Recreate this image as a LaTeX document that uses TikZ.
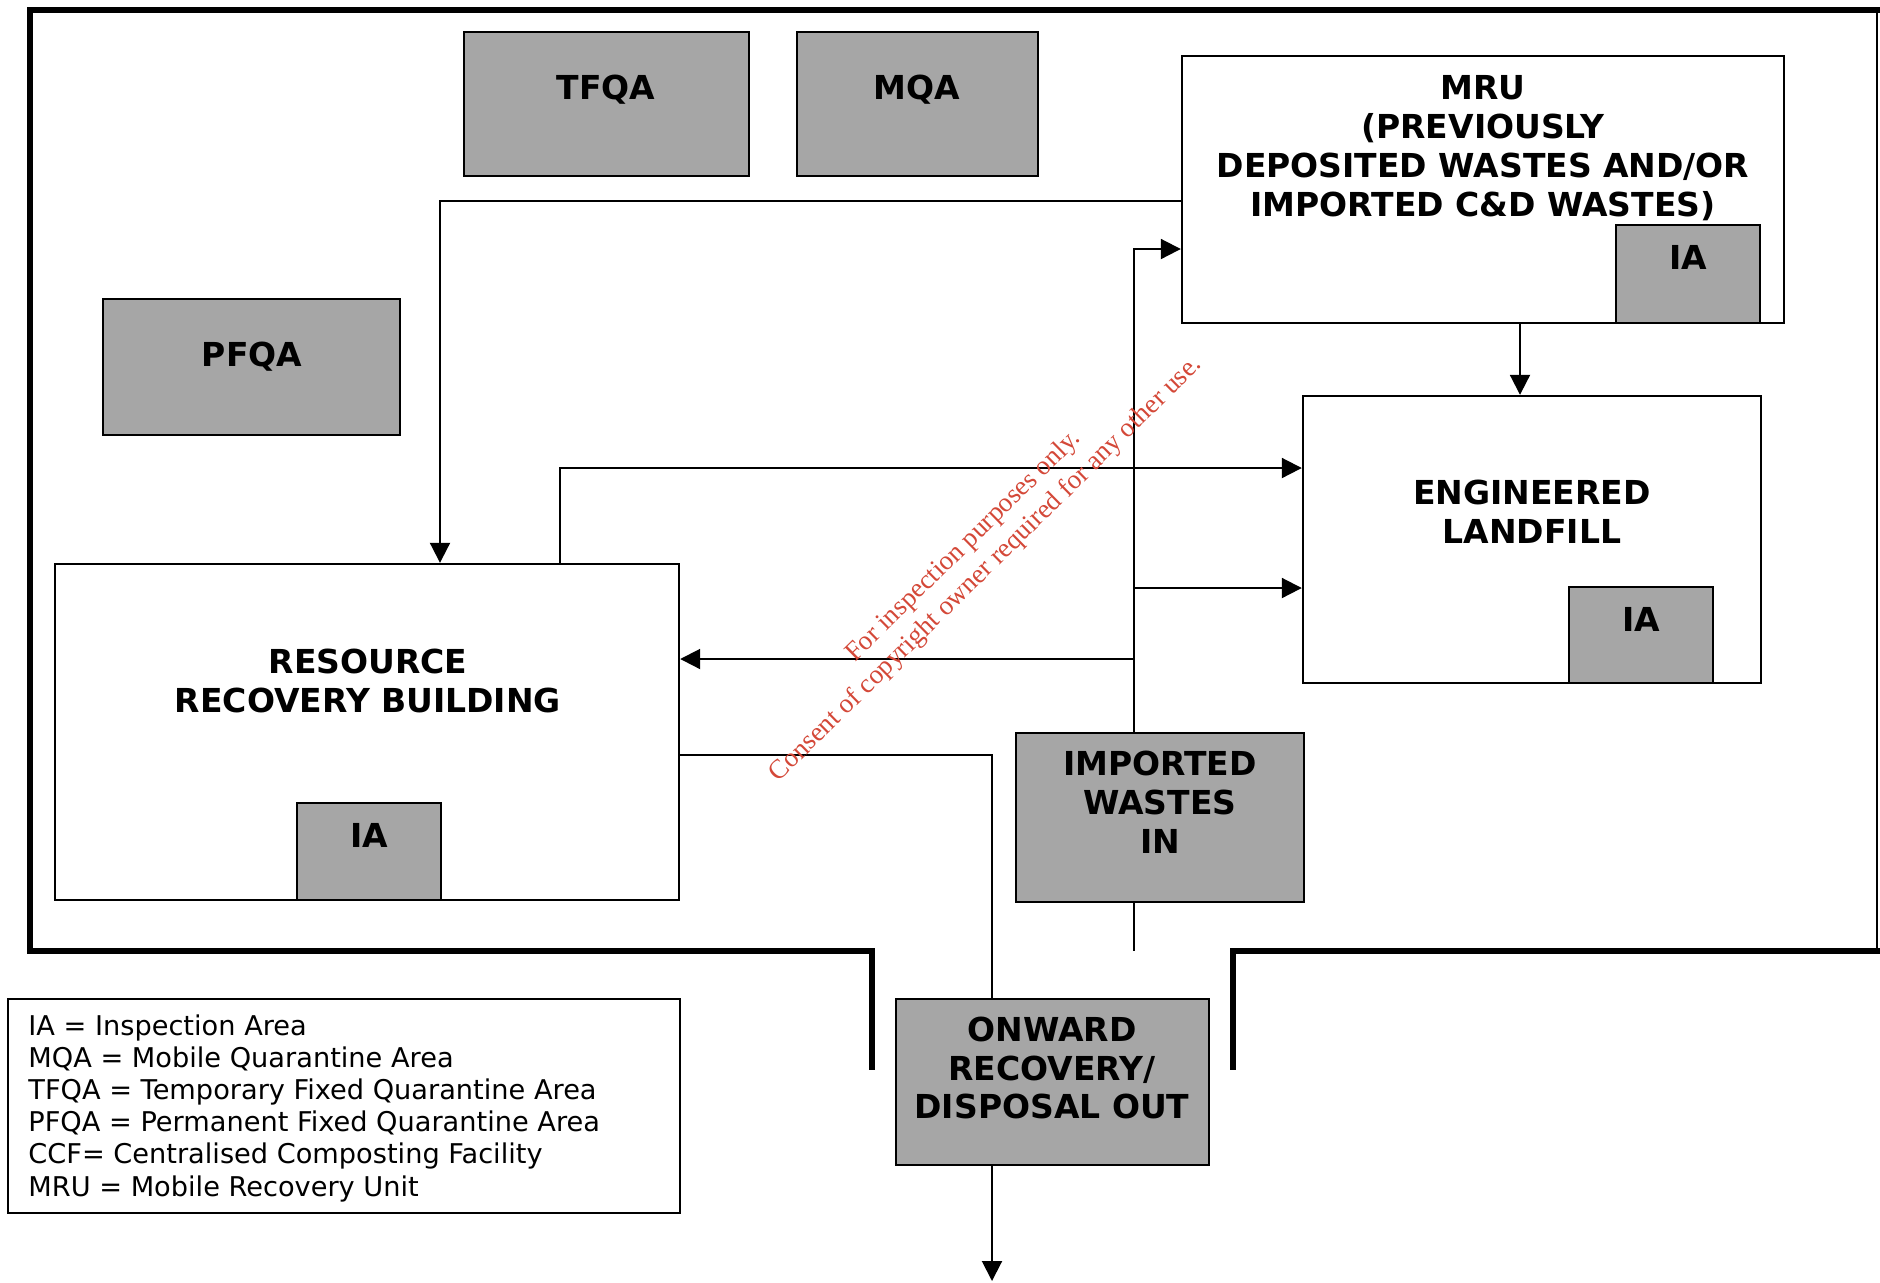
\documentclass[tikz,border=0pt]{standalone}
\usepackage{fontspec}
\setmainfont{DejaVu Sans}
\newfontfamily\wmfont{Liberation Serif}
\usetikzlibrary{arrows.meta,calc}
\definecolor{boxgray}{gray}{0.65}
\definecolor{wmred}{RGB}{212,72,56}
\tikzset{
  area/.style={draw=black,line width=1.2pt,fill=boxgray,inner sep=0pt},
  plainbox/.style={draw=black,line width=1.2pt,fill=white,inner sep=0pt},
  lbl/.style={font=\fontsize{16.5}{19.4}\selectfont\bfseries,align=center,inner sep=0pt},
  conn/.style={line width=1pt},
  arr/.style={conn,-{Triangle[length=10pt,width=10pt]}},
  wall/.style={line width=3pt,line join=miter,line cap=rect},
}
\begin{document}
\begin{tikzpicture}[x=0.5pt,y=-0.5pt]
\useasboundingbox[fill=white] (0,0) rectangle (1880,1282);

% site boundary
\draw[wall] (872,1067) -- (872,951) -- (30,951) -- (30,10) -- (1880,10);
\draw[wall] (1233,1067) -- (1233,951) -- (1880,951);
\draw[line width=0.8pt] (1877,10) -- (1877,951);

% boxes
\node[area,minimum width=142.5pt,minimum height=72pt] (tfqa) at (606.5,104) {};
\node[area,minimum width=120.5pt,minimum height=72pt] (mqa) at (917.5,104) {};
\node[plainbox,minimum width=301pt,minimum height=133.5pt] (mru) at (1483,189.5) {};
\node[area,minimum width=72pt,minimum height=49pt] (mruia) at (1688,274) {};
\node[area,minimum width=148.5pt,minimum height=68pt] (pfqa) at (251.5,367) {};
\node[plainbox,minimum width=229pt,minimum height=143.5pt] (lf) at (1532,539.5) {};
\node[area,minimum width=72pt,minimum height=48pt] (lfia) at (1641,635) {};
\node[plainbox,minimum width=312pt,minimum height=168pt] (rrb) at (367,732) {};
\node[area,minimum width=72pt,minimum height=48.5pt] (rrbia) at (369,851.5) {};
\node[area,minimum width=144pt,minimum height=84.5pt] (imp) at (1160,817.5) {};
\node[area,minimum width=156.5pt,minimum height=83pt] (onw) at (1052.5,1082) {};
\node[plainbox,minimum width=336pt,minimum height=107pt] (leg) at (344,1106) {};

% labels
\node[lbl] (tfqat) at (606,90) {TFQA};
\node[lbl] (mqat) at (917,90) {MQA};
\node[lbl] (pfqat) at (252,357) {PFQA};
\node[lbl] (mrut) at (1483,148) {MRU\\(PREVIOUSLY\\DEPOSITED WASTES AND/OR\\IMPORTED C\&D WASTES)};
\node[lbl] (mruiat) at (1688,257) {IA};
\node[lbl] (lft) at (1532,512) {ENGINEERED\\LANDFILL};
\node[lbl] (lfiat) at (1641,619) {IA};
\node[lbl] (rrbt) at (368,681) {RESOURCE\\RECOVERY BUILDING};
\node[lbl] (rrbiat) at (369,835) {IA};
\node[lbl] (impt) at (1160,802) {IMPORTED\\WASTES\\IN};
\node[lbl] (onwt) at (1052,1068) {ONWARD\\RECOVERY/\\DISPOSAL OUT};
\node[inner sep=0pt,align=left,anchor=west,font=\fontsize{13.6}{16.1}\selectfont] (legt) at (28,1108)
  {IA = Inspection Area\\MQA = Mobile Quarantine Area\\TFQA = Temporary Fixed Quarantine Area\\PFQA = Permanent Fixed Quarantine Area\\CCF= Centralised Composting Facility\\MRU = Mobile Recovery Unit};

% connectors
\coordinate (j1) at (1134,249);
\coordinate (j2) at (1134,588);
\coordinate (j3) at (1134,659);
\coordinate (wallpt) at (1134,951);
\coordinate (outend) at (992,1281);

\draw[arr] (mru.west |- 0,201) -| (rrb.north -| 440,0);
\draw[arr] (mru.south -| 1520,0) -- (lf.north -| 1520,0);
\draw[arr] (rrb.north -| 560,0) |- (lf.west |- 0,468);
\draw[arr] (imp.north -| j1) |- (mru.west |- j1);
\draw[arr] (j2) -- (lf.west |- j2);
\draw[arr] (j3) -- (rrb.east |- j3);
\draw[conn] (imp.south -| wallpt) -- (wallpt);
\draw[conn] (rrb.east |- 0,755) -| (onw.north -| outend);
\draw[arr] (onw.south -| outend) -- (outend);

% watermark
\node[rotate=44.5,inner sep=0pt,align=center,text=wmred,font=\wmfont\fontsize{13.5}{16}\selectfont] (wm) at (975,558)
  {For inspection purposes only.\\Consent of copyright owner required for any other use.};
\end{tikzpicture}
\end{document}
